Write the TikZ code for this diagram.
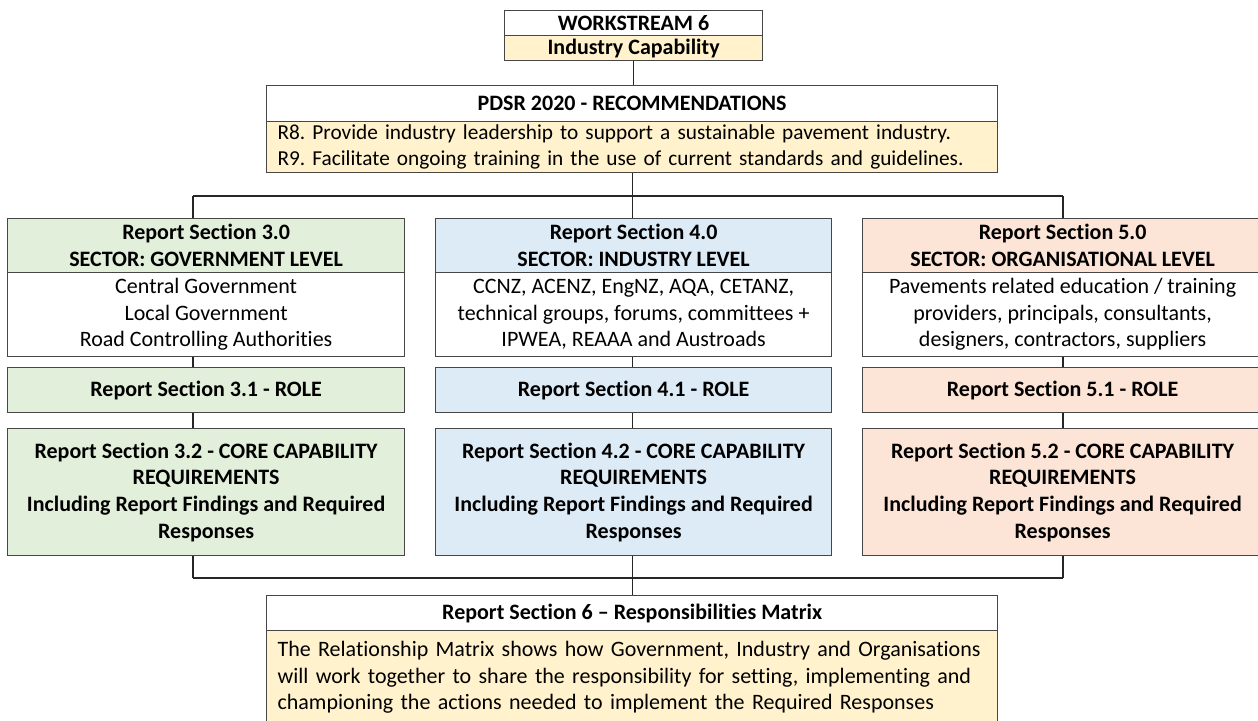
\documentclass[tikz,border=0pt]{standalone}
\usepackage{fontspec}
\setmainfont{Carlito}[Ligatures={TeX,NoCommon}]
\usetikzlibrary{positioning}
\frenchspacing

% fill colours of the boxes
\definecolor{wsgold}{RGB}{255,242,204}
\definecolor{govgreen}{RGB}{226,239,218}
\definecolor{indblue}{RGB}{221,235,247}
\definecolor{orgpeach}{RGB}{252,228,214}
\definecolor{edgegrey}{RGB}{70,70,70}

\tikzset{
  box/.style={draw=edgegrey, line width=0.6pt, anchor=north west, inner sep=0pt,
    align=center, font=\fontsize{11}{13.3}\selectfont},
  head/.style={box, font=\fontsize{11}{13.3}\selectfont\bfseries},
  para/.style={box, align=left, inner xsep=5.5pt, text width=354.5pt},
  link/.style={draw=black!85, line width=0.55pt},
}

\begin{document}
\begin{tikzpicture}[x=0.5pt,y=-0.5pt]
\useasboundingbox (0,0) rectangle (1258,720);
\clip (0,0) rectangle (1258,720);

% workstream title
\node[head, minimum width=129pt, minimum height=12.5pt] (ws) at (504,10) {WORKSTREAM 6};
\node[head, fill=wsgold, minimum width=129pt, minimum height=12.5pt] (cap) at (504,35) {Industry Capability};

% recommendations
\node[head, minimum width=365.5pt, minimum height=18pt] (rech) at (266,85) {PDSR 2020 - RECOMMENDATIONS};
\node[para, fill=wsgold, minimum height=25.5pt, font=\fontsize{10.65}{13.3}\selectfont] (recb) at (266,121)
  {R8. Provide industry leadership to support a sustainable pavement industry.\\
   R9. Facilitate ongoing training in the use of current standards and guidelines.};

% government column
\node[head, fill=govgreen, minimum width=198.5pt, minimum height=27pt] (g0h) at (7,218)
  {Report Section 3.0\\SECTOR: GOVERNMENT LEVEL};
\node[box, minimum width=198.5pt, minimum height=42pt] (g0b) at (7,272)
  {Central Government\\Local Government\\Road Controlling Authorities};
\node[head, fill=govgreen, minimum width=198.5pt, minimum height=22.5pt] (g0r) at (7,367)
  {Report Section 3.1 - ROLE};
\node[head, fill=govgreen, minimum width=198.5pt, minimum height=63.5pt] (g0c) at (7,428)
  {Report Section 3.2 - CORE CAPABILITY\\REQUIREMENTS\\Including Report Findings and Required\\Responses};

% industry column
\node[head, fill=indblue, minimum width=198pt, minimum height=27pt] (g1h) at (435,218)
  {Report Section 4.0\\SECTOR: INDUSTRY LEVEL};
\node[box, minimum width=198pt, minimum height=42pt] (g1b) at (435,272)
  {CCNZ, ACENZ, EngNZ, AQA, CETANZ,\\technical groups, forums, committees +\\IPWEA, REAAA and Austroads};
\node[head, fill=indblue, minimum width=198pt, minimum height=22.5pt] (g1r) at (435,367)
  {Report Section 4.1 - ROLE};
\node[head, fill=indblue, minimum width=198pt, minimum height=63.5pt] (g1c) at (435,428)
  {Report Section 4.2 - CORE CAPABILITY\\REQUIREMENTS\\Including Report Findings and Required\\Responses};

% organisational column
\node[head, fill=orgpeach, minimum width=200pt, minimum height=27pt] (g2h) at (862,218)
  {Report Section 5.0\\SECTOR: ORGANISATIONAL LEVEL};
\node[box, minimum width=200pt, minimum height=42pt] (g2b) at (862,272)
  {Pavements related education / training\\providers, principals, consultants,\\designers, contractors, suppliers};
\node[head, fill=orgpeach, minimum width=200pt, minimum height=22.5pt] (g2r) at (862,367)
  {Report Section 5.1 - ROLE};
\node[head, fill=orgpeach, minimum width=200pt, minimum height=63.5pt] (g2c) at (862,428)
  {Report Section 5.2 - CORE CAPABILITY\\REQUIREMENTS\\Including Report Findings and Required\\Responses};

% responsibilities matrix (runs off the bottom edge)
\node[head, minimum width=365.5pt, minimum height=17.5pt] (mth) at (266,595)
  {Report Section 6 – Responsibilities Matrix};
\node[para, fill=wsgold, inner ysep=5.3pt] (mtb) at (266,630)
  {The Relationship Matrix shows how Government, Industry and Organisations\\
   will work together to share the responsibility for setting, implementing and\\
   championing the actions needed to implement the Required Responses};

% drop points of the two busses
\coordinate (tl) at (193,196);
\coordinate (tm) at (recb.south |- 0,196);
\coordinate (tr) at (1063,196);
\coordinate (bl) at (193,578);
\coordinate (bm) at (tm |- 0,578);
\coordinate (br) at (1063,578);

% connectors
\draw[link] (cap.south) -- (cap.south |- rech.north);
\draw[link] (recb.south) -- (tm);
\draw[link] (tl) -- (tr);
\draw[link] (bl) -- (br);
\draw[link] (bm) -- (bm |- mth.north);
\foreach \c/\x in {0/l,1/m,2/r}{
  \draw[link] (t\x) -- (t\x |- g\c h.north);
  \draw[link] (g\c b.south -| t\x) -- (g\c r.north -| t\x);
  \draw[link] (g\c r.south -| t\x) -- (g\c c.north -| t\x);
  \draw[link] (g\c c.south -| t\x) -- (b\x);
}
\end{tikzpicture}
\end{document}
